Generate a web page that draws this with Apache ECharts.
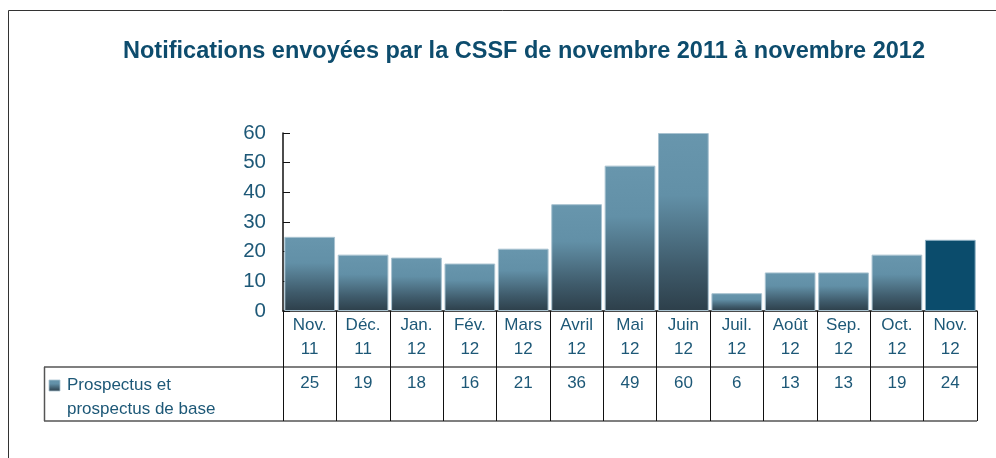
<!DOCTYPE html>
<html><head><meta charset="utf-8">
<script src="https://cdn.jsdelivr.net/npm/echarts@6/dist/echarts.min.js"></script>
<style>html,body{margin:0;padding:0;background:#fff}#c{width:996px;height:458px}</style>
</head><body><div id="c"></div>
<script>
var titleText = 'Notifications envoyées par la CSSF de novembre 2011 à novembre 2012';
var seriesName = 'Prospectus et\nprospectus de base';
var monthLabels = ['Nov.', 'Déc.', 'Jan.', 'Fév.', 'Mars', 'Avril', 'Mai', 'Juin', 'Juil.', 'Août', 'Sep.', 'Oct.', 'Nov.'];
var yearLabels = ['11', '11', '12', '12', '12', '12', '12', '12', '12', '12', '12', '12', '12'];
var values = [25, 19, 18, 16, 21, 36, 49, 60, 6, 13, 13, 19, 24];
var yTicks = [0, 10, 20, 30, 40, 50, 60];

var categories = monthLabels.map(function (m, i) { return m + '|' + yearLabels[i] + '|' + values[i]; });
var textColor = '#1d5877';
var FONT = 'Liberation Sans, Arial, sans-serif';
var barGrad = new echarts.graphic.LinearGradient(0, 0, 0, 1, [
  { offset: 0, color: '#6896ad' },
  { offset: 0.35, color: '#6290a7' },
  { offset: 0.75, color: '#3f5b6b' },
  { offset: 1, color: '#2d3f4a' }
]);
var data = values.map(function (v, i) {
  if (i === values.length - 1) {
    return { value: v, itemStyle: { color: '#0b4c6c', borderColor: '#8fb1c3' } };
  }
  return v;
});

var chart = echarts.init(document.getElementById('c'), null, { renderer: 'canvas' });
chart.setOption({
  animation: false,
  textStyle: { fontFamily: FONT },
  title: {
    text: titleText,
    left: 519, top: 35, textAlign: 'center',
    textStyle: { fontSize: 23.5, fontWeight: 'bold', color: '#0d4c6d', fontFamily: FONT }
  },
  grid: { left: 283, right: 19, top: 133, bottom: 147, containLabel: false },
  xAxis: {
    type: 'category',
    data: categories,
    boundaryGap: true,
    axisLine: { lineStyle: { color: '#111', width: 1.5 } },
    axisTick: { show: true, length: 110, lineStyle: { color: '#111', width: 1 } },
    axisLabel: {
      interval: 0, margin: 2,
      formatter: function (val) {
        var p = val.split('|');
        return '{a|' + p[0] + '}\n{a|' + p[1] + '}\n{v|' + p[2] + '}';
      },
      rich: {
        a: { fontSize: 17, lineHeight: 24, color: textColor, fontFamily: FONT },
        v: { fontSize: 17, lineHeight: 44, color: textColor, fontFamily: FONT }
      }
    }
  },
  yAxis: {
    type: 'value', min: yTicks[0], max: yTicks[yTicks.length - 1], interval: 10,
    axisLine: { show: true, lineStyle: { color: '#111', width: 1.5 } },
    axisTick: { show: true, inside: true, length: 7, lineStyle: { color: '#111' } },
    splitLine: { show: false },
    axisLabel: { fontSize: 20.5, color: textColor, margin: 17 }
  },
  series: [{
    name: seriesName,
    type: 'bar',
    data: data,
    barCategoryGap: '5%',
    itemStyle: { color: barGrad, borderColor: '#a9c3d1', borderWidth: 1 }
  }],
  graphic: [
    { type: 'rect', shape: { x: 8.5, y: 10.5, width: 1200, height: 800 }, style: { fill: null, stroke: '#333', lineWidth: 1 }, silent: true },
    { type: 'line', shape: { x1: 44, y1: 367, x2: 977, y2: 367 }, style: { stroke: '#555', lineWidth: 1.5 } },
    { type: 'line', shape: { x1: 44, y1: 421, x2: 977, y2: 421 }, style: { stroke: '#555', lineWidth: 1.5 } },
    { type: 'line', shape: { x1: 44.5, y1: 367, x2: 44.5, y2: 421 }, style: { stroke: '#555', lineWidth: 1.5 } },
    { type: 'rect', shape: { x: 49, y: 380, width: 11, height: 11 }, style: { fill: barGrad, stroke: '#a9c3d1', lineWidth: 0.8 } },
    { type: 'text', left: 67, top: 373, style: { text: seriesName, fontSize: 17, lineHeight: 24, fill: textColor, fontFamily: FONT } }
  ]
});
</script></body></html>
